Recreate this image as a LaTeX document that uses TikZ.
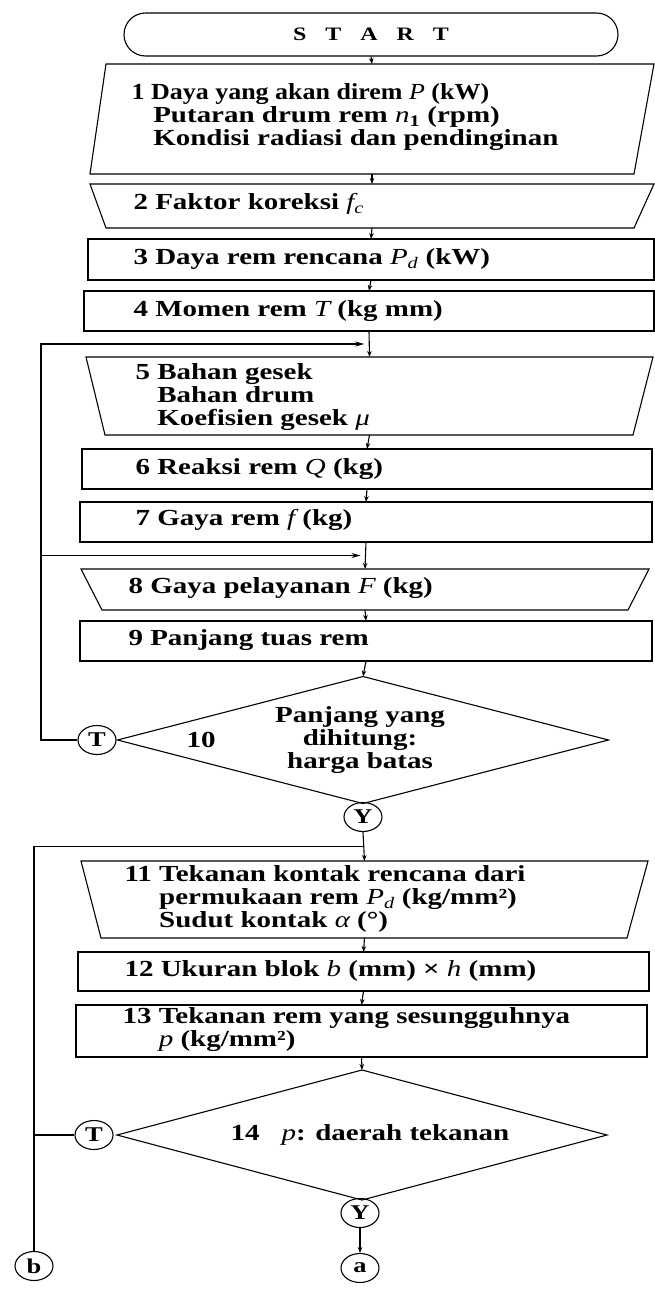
\documentclass[tikz,border=0pt]{standalone}
\usepackage{fontspec}
\setmainfont{Liberation Serif}[FakeStretch=1.26]
\newfontfamily\narrowfont{Liberation Serif}[FakeStretch=1.13]
\usetikzlibrary{shapes.misc,shapes.geometric,arrows.meta,calc}
\newcommand{\mi}[1]{{\mdseries\itshape #1}}
\newcommand{\bigfnt}{\fontsize{23}{23}\selectfont\bfseries}
\begin{document}
\begin{tikzpicture}[x=1pt,y=-1pt,line width=1.1pt,
  hold/.style={rectangle,draw=none,inner sep=0pt,outer sep=0pt},
  rbox/.style={rectangle,draw,inner sep=0pt,outer sep=0pt},
  outl/.style={draw,line join=miter},
  txt/.style={inner sep=0pt,align=left,anchor=west,font=\bigfnt},
  arr/.style={-{Stealth[length=6pt,width=4.5pt]}},
  larr/.style={-{Stealth[length=9pt,width=5pt]}},
  conn/.style={ellipse,draw,inner sep=0pt,minimum width=38pt,minimum height=29pt,font=\fontsize{21}{21}\selectfont\bfseries}]
\useasboundingbox (0,0) rectangle (655,1291);
\fill[white] (0,0) rectangle (655,1291);

% START
\node[rounded rectangle,draw,inner sep=0pt,minimum width=494pt,minimum height=43pt,font=\fontsize{19}{19}\selectfont\bfseries] (start) at (371,34.5) {S\hspace{19pt}T\hspace{19pt}A\hspace{19pt}R\hspace{19pt}T};

% box 1 (parallelogram)
\node[hold,minimum width=564pt,minimum height=110pt] (b1) at (372,119) {};
\draw[outl] ([xshift=16pt]b1.north west) -- (b1.north east) -- ([xshift=-20pt]b1.south east) -- (b1.south west) -- cycle;
\node[txt] (t1) at (131,117) {{\narrowfont\bfseries 1\ Daya yang akan direm \mi{P} (kW)}\\\hphantom{1\ }Putaran drum rem \mi{n}\textsubscript{1} (rpm)\\\hphantom{1\ }Kondisi radiasi dan pendinginan};

% box 2 (trapezoid)
\node[hold,minimum width=564pt,minimum height=44pt] (b2) at (372,206) {};
\draw[outl] (b2.north west) -- (b2.north east) -- ([xshift=-20pt]b2.south east) -- ([xshift=16pt]b2.south west) -- cycle;
\node[txt] (t2) at (133,204) {2\ Faktor koreksi \mi{f}\textsubscript{\mi{c}}};

% box 3
\node[rbox,minimum width=566pt,minimum height=41pt] (b3) at (371,259.5) {};
\node[txt] (t3) at (133,259) {3\ Daya rem rencana \mi{P}\textsubscript{\mi{d}} (kW)};

% box 4
\node[rbox,minimum width=570pt,minimum height=40pt] (b4) at (369,311) {};
\node[txt] (t4) at (133,311) {4\ Momen rem \mi{T} (kg mm)};

% box 5 (trapezoid)
\node[hold,minimum width=567pt,minimum height=78pt] (b5) at (369.5,396) {};
\draw[outl] (b5.north west) -- (b5.north east) -- ([xshift=-20pt]b5.south east) -- ([xshift=19pt]b5.south west) -- cycle;
\node[txt] (t5) at (135,397) {5\ Bahan gesek\\\hphantom{5\ }Bahan drum\\\hphantom{5\ }Koefisien gesek \mi{μ}};

% box 6
\node[rbox,minimum width=570pt,minimum height=40pt] (b6) at (367,469) {};
\node[txt] (t6) at (135,469) {6\ Reaksi rem \mi{Q} (kg)};

% box 7
\node[rbox,minimum width=572pt,minimum height=40pt] (b7) at (366,522) {};
\node[txt] (t7) at (135,520) {7\ Gaya rem \mi{f} (kg)};

% box 8 (trapezoid)
\node[hold,minimum width=568pt,minimum height=41pt] (b8) at (365,589.5) {};
\draw[outl] (b8.north west) -- (b8.north east) -- ([xshift=-21pt]b8.south east) -- ([xshift=21pt]b8.south west) -- cycle;
\node[txt] (t8) at (128,588) {8\ Gaya pelayanan \mi{F} (kg)};

% box 9
\node[rbox,minimum width=572pt,minimum height=40pt] (b9) at (366,641) {};
\node[txt] (t9) at (128,640) {9\ Panjang tuas rem};

% diamond 10
\node[hold,minimum width=491pt,minimum height=127pt] (d10) at (363,740) {};
\draw[outl] (d10.north) -- (d10.east) -- (d10.south) -- (d10.west) -- cycle;
\node[inner sep=0pt,align=center,font=\bigfnt] (t10a) at (360,740) {Panjang yang\\dihitung:\\harga batas};
\node[txt] (t10b) at (186,740) {10};
\node[conn] (T1) at (97,740) {T};
\node[conn] (Y1) at (363,817) {Y};

% box 11 (trapezoid)
\node[hold,minimum width=567pt,minimum height=77pt] (b11) at (364.5,899.5) {};
\draw[outl] (b11.north west) -- (b11.north east) -- ([xshift=-21pt]b11.south east) -- ([xshift=20pt]b11.south west) -- cycle;
\node[txt] (t11) at (124,899) {11\ Tekanan kontak rencana dari\\\hphantom{11\ }permukaan rem \mi{P}\textsubscript{\mi{d}} (kg/mm²)\\\hphantom{11\ }Sudut kontak \mi{α} (°)};

% box 12
\node[rbox,minimum width=571pt,minimum height=39pt] (b12) at (363.5,971.5) {};
\node[txt] (t12) at (124,971) {12\ Ukuran blok \mi{b} (mm) × \mi{h} (mm)};

% box 13
\node[rbox,minimum width=571pt,minimum height=52pt] (b13) at (361.5,1031) {};
\node[txt] (t13) at (122,1030) {13\ Tekanan rem yang sesungguhnya\\\hphantom{13\ }\mi{p} (kg/mm²)};

% diamond 14
\node[hold,minimum width=490pt,minimum height=130pt] (d14) at (362,1135) {};
\draw[outl] (d14.north) -- (d14.east) -- (d14.south) -- (d14.west) -- cycle;
\node[txt] (t14) at (230,1135) {14\hspace{22pt}\mi{p}: daerah tekanan};
\node[conn] (T2) at (94,1135) {T};
\node[conn] (Y2) at (360,1213) {Y};
\node[conn] (ca) at (360,1268) {a};
\node[conn] (cb) at (34,1266) {b};

% main flow
\draw[arr] (start.south) -- (b1.north);
\draw[arr] (b1.south) -- (b2.north);
\draw[arr] (b2.south) -- (b3.north);
\draw[arr] (b3.south) -- (b4.north);
\draw[arr] (b4.south) -- (b5.north);
\draw[arr] (b5.south) -- (b6.north);
\draw[arr] (b6.south) -- (b7.north);
\draw[arr] (b7.south) -- (b8.north);
\draw[arr] (b8.south) -- (b9.north);
\draw[arr] (b9.south) -- (d10.north);
\draw[arr] (Y1.south) -- (b11.north);
\draw[arr] (b11.south) -- (b12.north);
\draw[arr] (b12.south) -- (b13.north);
\draw[arr] (b13.south) -- (d14.north);
\draw[arr] (Y2.south) -- (ca.north);

% junctions
\coordinate (j1) at ($(b4.south)!0.5!(b5.north)$);
\coordinate (j2) at ($(b7.south)!0.5!(b8.north)$);
\coordinate (j3) at ($(Y1.south)!0.5!(b11.north)$);
\coordinate (c1) at (41,740);

% loops
\draw[larr] (T1.west) -- (c1) |- ([xshift=-5pt]j1);
\draw[larr] (c1 |- j2) -- ([xshift=-5pt]j2);
\draw (T2.west) -- (T2.west -| cb.north);
\draw (cb.north) -- (cb.north |- j3) -- (j3);
\end{tikzpicture}
\end{document}
